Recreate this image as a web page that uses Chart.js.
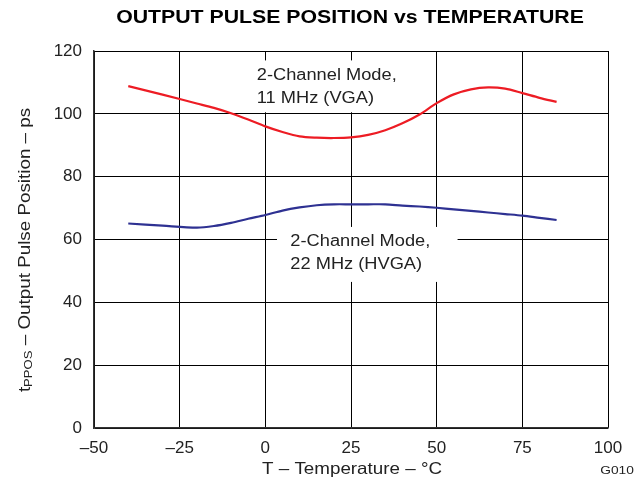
<!DOCTYPE html>
<html><head><meta charset="utf-8">
<script src="https://cdn.jsdelivr.net/npm/chart.js@4.4.1/dist/chart.umd.min.js"></script>
<style>html,body{margin:0;padding:0;background:#fff}#wrap{width:644px;height:479px}</style>
</head><body><div id="wrap"><canvas id="c" width="644" height="479"></canvas></div>
<script>
const temps = [-40,-30,-20,-15,-10,-5,0,5,10,15,20,25,30,35,40,45,50,55,60,65,70,75,80,85];
const vga11 = [108.8,106.1,103.3,101.9,100.2,98.2,96.0,94.2,92.8,92.4,92.3,92.5,93.3,94.8,97.0,99.8,103.4,106.2,107.8,108.4,108.0,106.6,105.1,103.8];
const hvga22 = [65.1,64.4,63.8,64.3,65.3,66.6,67.8,69.2,70.2,70.9,71.2,71.2,71.2,71.2,70.8,70.5,70.1,69.6,69.1,68.6,68.1,67.6,66.9,66.2];
const xTicks = [-50,-25,0,25,50,75,100];
const yTicks = [0,20,40,60,80,100,120];
const titleText = 'OUTPUT PULSE POSITION vs TEMPERATURE';
const xTitle = 'T \u2013 Temperature \u2013 \u00B0C';
const yTitleMain = 't';
const yTitleSub = 'PPOS';
const yTitleRest = ' \u2013 Output Pulse Position \u2013 ps';
const labelVGA = ['2-Channel Mode,', '11 MHz (VGA)'];
const labelHVGA = ['2-Channel Mode,', '22 MHz (HVGA)'];
const figId = 'G010';

const FONT = '"Liberation Sans", Arial, sans-serif';
const SX = 1.14;

const toPts = (xs, ys) => xs.map((x, i) => ({x, y: ys[i]}));

const boxes = [
  {x0:-4.5, x1:40.7, y0:117, y1:100.5, tx:-2.5, ty:[112.3,104.9], lines:labelVGA},
  {x0:3.4, x1:56.1, y0:64, y1:46.5, tx:7.3, ty:[59.3,51.9], lines:labelHVGA}
];

function txt(ctx, s, x, y, align, sx) {
  ctx.save();
  ctx.translate(x, y);
  ctx.scale(sx || SX, 1);
  ctx.textAlign = align;
  ctx.fillText(s, 0, 0);
  ctx.restore();
}

const decor = {
  id:'decor',
  beforeDatasetsDraw(chart){
    const {ctx, scales:{x, y}} = chart;
    ctx.save();
    boxes.forEach(b => {
      const l = x.getPixelForValue(b.x0), r = x.getPixelForValue(b.x1);
      const t = y.getPixelForValue(b.y0), bt = y.getPixelForValue(b.y1);
      ctx.fillStyle = '#fff';
      ctx.fillRect(l, t, r - l, bt - t);
      ctx.fillStyle = '#222';
      ctx.font = '16px ' + FONT;
      ctx.textBaseline = 'middle';
      b.lines.forEach((s, i) => txt(ctx, s, x.getPixelForValue(b.tx), y.getPixelForValue(b.ty[i]), 'left'));
    });
    ctx.restore();
  },
  afterDraw(chart){
    const {ctx, chartArea:ca} = chart;
    ctx.save();
    ctx.fillStyle = '#000';
    ctx.textBaseline = 'middle';
    ctx.font = 'bold 18.5px ' + FONT;
    txt(ctx, titleText, 350, 18, 'center', 1.15);
    ctx.font = '16.5px ' + FONT;
    ctx.fillStyle = '#222';
    txt(ctx, xTitle, 352, 469, 'center');
    ctx.font = '11px ' + FONT;
    txt(ctx, figId, 617, 471, 'center', 1.25);
    // y title rotated
    ctx.translate(25, 250);
    ctx.rotate(-Math.PI / 2);
    ctx.scale(SX, 1);
    ctx.font = '16.5px ' + FONT;
    const wMain = ctx.measureText(yTitleMain).width;
    ctx.font = '11.5px ' + FONT;
    const wSub = ctx.measureText(yTitleSub).width;
    ctx.font = '16.5px ' + FONT;
    const wRest = ctx.measureText(yTitleRest).width;
    let sx = -(wMain + wSub + wRest) / 2;
    ctx.textAlign = 'left';
    ctx.fillText(yTitleMain, sx, 0);
    sx += wMain;
    ctx.font = '11.5px ' + FONT;
    ctx.fillText(yTitleSub, sx, 4);
    sx += wSub;
    ctx.font = '16.5px ' + FONT;
    ctx.fillText(yTitleRest, sx, 0);
    ctx.restore();
  }
};

new Chart(document.getElementById('c'), {
  type:'line',
  data:{datasets:[
    {data:toPts(temps, vga11), borderColor:'rgb(237,28,36)', borderWidth:2.2, pointRadius:0, tension:0.3, fill:false},
    {data:toPts(temps, hvga22), borderColor:'rgb(46,49,146)', borderWidth:2.2, pointRadius:0, tension:0.3, fill:false}
  ]},
  options:{
    responsive:false, animation:false,
    layout:{padding:{left:0, right:36, top:51, bottom:0}},
    plugins:{legend:{display:false}, tooltip:{enabled:false}, title:{display:false}},
    scales:{
      x:{type:'linear', min:-50, max:100,
         afterBuildTicks:s => { s.ticks = xTicks.map(v => ({value:v})); },
         afterFit:s => { s.height = 51; },
         grid:{color:'#000', lineWidth:1, drawTicks:false},
         border:{color:'#333', width:1.5},
         ticks:{padding:10, color:'#222', font:{family:FONT, size:17}, callback:v => v < 0 ? '\u2013' + Math.abs(v) : String(v)}},
      y:{min:0, max:120,
         afterBuildTicks:s => { s.ticks = yTicks.map(v => ({value:v})); },
         afterFit:s => { s.width = 94; },
         grid:{color:'#000', lineWidth:1, drawTicks:false},
         border:{color:'#333', width:1.5},
         ticks:{padding:12, color:'#222', font:{family:FONT, size:17}}}
    }
  },
  plugins:[decor]
});
</script></body></html>
